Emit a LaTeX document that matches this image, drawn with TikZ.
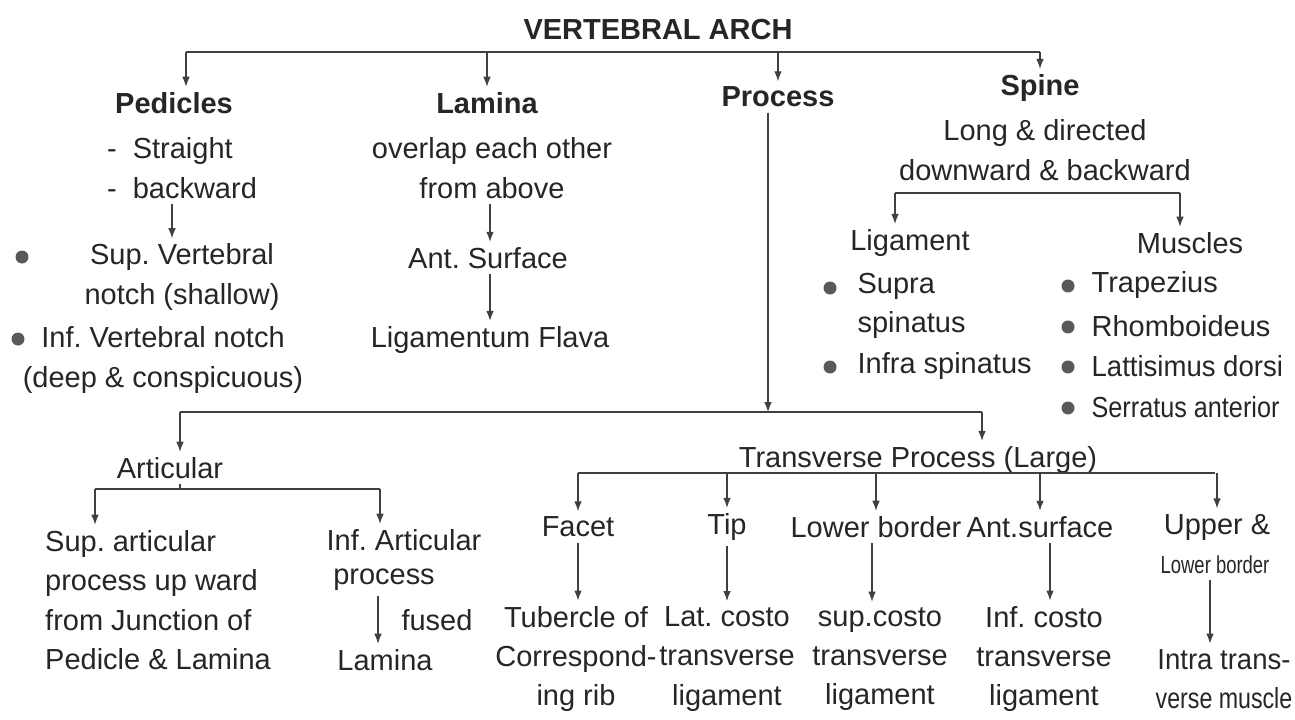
\documentclass[tikz,border=0pt]{standalone}
\usepackage{fontspec}
\setmainfont{Liberation Sans}
\usetikzlibrary{arrows.meta}
\frenchspacing

\begin{document}
\begin{tikzpicture}[x=0.02cm, y=-0.02cm, >={Latex[length=2mm,width=1.5mm]},
  every node/.style={font=\fontsize{16.5}{22.4}\selectfont, text=black!85, inner sep=3pt},
  head/.style={font=\fontsize{16.5}{22.4}\selectfont\bfseries},
  txt/.style={align=center},
  line/.style={black!75, line width=0.6pt},
  bullet/.style={circle, fill=black!65, minimum size=0.26cm, inner sep=0pt}]
  \useasboundingbox[fill=white] (0,0) rectangle (1295,720);
  % title and first level
  \node[head] (arch) at (658,30) {VERTEBRAL ARCH};
  \node[head] (ped) at (174,103) {Pedicles};
  \node[head] (lam) at (487,103) {Lamina};
  \node[head] (proc) at (778,97) {Process};
  \node[head] (spine) at (1040,88) {Spine};
  \coordinate (tb1) at (186,52);
  \coordinate (tb2) at (1040,52);
  \draw[line] (tb1) -- (tb2);
  \draw[line,->] (tb1) -- (tb1 |- ped.north);
  \foreach \n in {lam,proc,spine}{\draw[line,->] (\n.north |- tb1) -- (\n.north);}
  % pedicles
  \node[txt, align=left] (pedtxt) at (182,168) {- \ Straight\\- \ backward};
  \node[txt] (supnotch) at (182,277) {Sup. Vertebral\\notch (shallow)};
  \node[txt] (infnotch) at (163,360) {Inf. Vertebral notch\\(deep \& conspicuous)};
  \draw[line,->] (pedtxt.south -| 172,0) -- (supnotch.north -| 172,0);
  % lamina
  \node[txt] (lamtxt) at (492,168) {overlap each other\\from above};
  \node[txt] (antsurf) at (488,258) {Ant. Surface};
  \node[txt] (flava) at (490,340) {Ligamentum Flava};
  \draw[line,->] (lamtxt.south -| 490,0) -- (antsurf.north -| 490,0);
  \draw[line,->] (antsurf.south -| 490,0) -- (flava.north -| 490,0);
  % spine
  \node[txt] (spinetxt) at (1045,150) {Long \& directed\\downward \& backward};
  \node[txt] (lig) at (910,243) {Ligament};
  \node[txt] (mus) at (1190,243) {Muscles};
  \coordinate (sb1) at (895,193);
  \coordinate (sb2) at (1180,193);
  \draw[line] (sb1) -- (sb2);
  \draw[line,->] (sb1) -- (sb1 |- lig.north);
  \draw[line,->] (sb2) -- (sb2 |- mus.north);
  \node[txt, align=left, anchor=west] (supra) at (852,306) {Supra\\spinatus};
  \node[txt, anchor=west] (infra) at (852,366) {Infra spinatus};
  \node[txt, anchor=west] (trap) at (1086,285) {Trapezius};
  \node[txt, anchor=west] (rhom) at (1086,326) {Rhomboideus};
  \node[txt, anchor=west] (latt) at (1086,366) {\scalebox{0.95}[1]{Lattisimus dorsi}};
  \node[txt, anchor=west] (serr) at (1086,407) {\scalebox{0.87}[1]{Serratus anterior}};
  % bullets
  \foreach \n/\x/\y in {1/22/257, 2/18/339, 3/830/288, 4/830/367,
                        5/1068/286, 6/1068/327, 7/1068/367, 8/1068/408}
    {\node[bullet] (dot\n) at (\x,\y) {};}
  % process -> articular / transverse
  \node[txt] (artic) at (170,468) {Articular};
  \node[txt] (trans) at (918,460) {Transverse Process (Large)};
  \coordinate (pb1) at (180,412);
  \coordinate (pb2) at (982,412);
  \draw[line,->] ([xshift=-0.2cm]proc.south) -- ([xshift=-0.2cm]proc.south |- pb1);
  \draw[line] (pb1) -- (pb2);
  \draw[line,->] (pb1) -- (pb1 |- artic.north);
  \draw[line,->] (pb2) -- (pb2 |- trans.north);
  % articular
  \node[txt, align=left] (supart) at (158,600) {Sup. articular\\process up ward\\from Junction of\\Pedicle \& Lamina};
  \node[txt] (infart) at (404,540) {Inf. Articular};
  \node[txt] (infproc) at (384,580) {process};
  \node[txt] (fused) at (437,620) {fused};
  \node[txt] (lamfused) at (385,660) {Lamina};
  \coordinate (ab1) at (95,489);
  \coordinate (ab2) at (380,489);
  \draw[line] (pb1 |- artic.south) -- (pb1 |- ab1);
  \draw[line] (ab1) -- (ab2);
  \draw[line,->] (ab1) -- (ab1 |- supart.north);
  \draw[line,->] (ab2) -- (ab2 |- infart.north);
  \draw[line,->] (infproc.south -| 378,0) -- (lamfused.north -| 378,0);
  % transverse process
  \node[txt] (facet) at (578,527) {Facet};
  \node[txt] (tip) at (727,527) {Tip};
  \node[txt] (lowb) at (876,527) {Lower border};
  \node[txt] (ants) at (1040,527) {Ant.surface};
  \node[txt] (upper) at (1217,527) {Upper \&};
  \node[txt] (upper2) at (1215,565) {\scalebox{0.75}[1]{\fontsize{14}{16}\selectfont Lower border}};
  \coordinate (tp1) at (578,473);
  \coordinate (tp2) at (1215,473);
  \draw[line] (tp1) -- (tp2);
  \foreach \n in {facet,tip,lowb,ants,upper}{\draw[line,->] (\n.north |- tp1) -- (\n.north);}
  \node[txt] (tub) at (576,659) {Tubercle of\\Correspond-\\ing rib};
  \node[txt] (latc) at (727,659) {Lat. costo\\transverse\\ligament};
  \node[txt] (supc) at (880,659) {sup.costo\\transverse\\ligament};
  \node[txt] (infc) at (1044,659) {Inf. costo\\transverse\\ligament};
  \node[txt] (intra) at (1224,679) {\scalebox{0.95}[1]{Intra trans-}\\\scalebox{0.8}[1]{verse muscle}};
  \draw[line,->] (facet.south) -- (facet.south |- tub.north);
  \draw[line,->] (tip.south) -- (tip.south |- latc.north);
  \draw[line,->] (lowb.south -| 872,0) -- (supc.north -| 872,0);
  \draw[line,->] (ants.south -| 1050,0) -- (infc.north -| 1050,0);
  \draw[line,->] (upper2.south -| 1210,0) -- (intra.north -| 1210,0);
\end{tikzpicture}
\end{document}
